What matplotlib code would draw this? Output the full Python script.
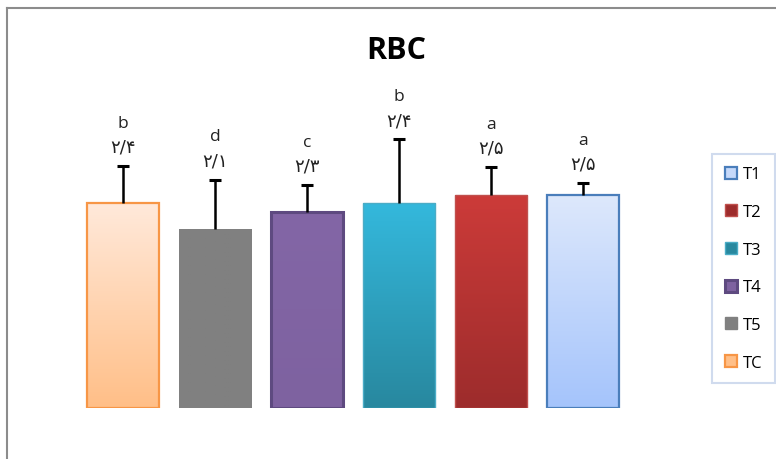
import numpy as np
import matplotlib
matplotlib.use('Agg')
import matplotlib.pyplot as plt
from matplotlib.patches import Patch, Rectangle
from matplotlib.lines import Line2D
from matplotlib.colors import LinearSegmentedColormap

# data (bars drawn left to right)
groups = ['TC', 'T5', 'T4', 'T3', 'T2', 'T1']
values = [2.4, 2.1, 2.3, 2.4, 2.5, 2.5]
errors = [0.44, 0.58, 0.32, 0.75, 0.33, 0.14]
value_labels = ['۲/۴', '۲/۱', '۲/۳', '۲/۴', '۲/۵', '۲/۵']
letters = ['b', 'd', 'c', 'b', 'a', 'a']

# gradient top colour, bottom colour, edge colour, edge width
styles = {
    'TC': ('#FFE9DA', '#FFBF88', '#F79646', 1.6),
    'T5': ('#808080', '#808080', '#808080', 0.0),
    'T4': ('#8366A6', '#7E62A0', '#5E4A80', 2.2),
    'T3': ('#34B8DC', '#28889F', '#4BACC6', 1.0),
    'T2': ('#CC3B39', '#9D2C2C', '#C0504D', 1.0),
    'T1': ('#DDE8FC', '#A5C4FB', '#4A7EBB', 1.6),
}

fig = plt.figure(figsize=(7.76, 4.6), dpi=100)
ax = fig.add_axes([68 / 776, 51 / 460, 570 / 776, 341 / 460])

x = np.arange(len(groups))
w = 0.79
for i, g in enumerate(groups):
    top_c, bot_c, edge_c, lw = styles[g]
    cmap = LinearSegmentedColormap.from_list(g, [bot_c, top_c])
    grad = np.linspace(1, 0, 100).reshape(-1, 1)
    rect = Rectangle((x[i] - w / 2, 0), w, values[i], facecolor='none',
                     edgecolor=edge_c if lw > 0 else 'none', linewidth=lw, zorder=3)
    ax.add_patch(rect)
    im = ax.imshow(grad, cmap=cmap, extent=[x[i] - w / 2, x[i] + w / 2, 0, values[i]],
                   aspect='auto', zorder=2, vmin=0, vmax=1)
    im.set_clip_path(rect)

tops = np.array(values) + np.array(errors)
ax.vlines(x, values, tops, color='black', linewidth=1.8, zorder=4)
ax.plot(x, tops, ls='none', marker='_', markersize=9, mew=2.2, color='black', zorder=4)

for i in range(len(groups)):
    ax.annotate(value_labels[i], (x[i], tops[i]), xytext=(0, 14), textcoords='offset points',
                ha='center', va='center', fontsize=13, family=['DejaVu Sans'], color='#222222')
    ax.annotate(letters[i], (x[i], tops[i]), xytext=(0, 31), textcoords='offset points',
                ha='center', va='center', fontsize=12.5, family=['Open Sans'], color='#222222')

ax.set_xlim(-0.6, 5.6)
ax.set_ylim(0, 4)
ax.axis('off')

fig.text(0.51, 0.89, 'RBC', ha='center', va='center', fontsize=22,
         fontweight='bold', family=['Open Sans'])

# legend, top entry is T1
order = ['T1', 'T2', 'T3', 'T4', 'T5', 'TC']
handles = [Patch(facecolor=styles[g][1] if g != 'T1' else '#C6D9FA',
                 edgecolor=styles[g][2], linewidth=max(styles[g][3], 1.0)) for g in order]
leg = fig.legend(handles, order, loc='upper left', bbox_to_anchor=(712 / 776, 1 - 155 / 460),
                 frameon=True, fancybox=False, handlelength=0.75, handleheight=0.75,
                 handletextpad=0.35, labelspacing=1.3, borderpad=0.75, borderaxespad=0,
                 prop={'family': 'Open Sans', 'size': 12})
leg.get_frame().set_edgecolor('#C5D3EA')
leg.get_frame().set_linewidth(1.5)

# outer chart frame
fig.add_artist(Line2D([7 / 776, 7 / 776], [0, 1 - 9 / 460], color='#8C8C8C', lw=1.5))
fig.add_artist(Line2D([7 / 776, 1.0], [1 - 9 / 460, 1 - 9 / 460], color='#8C8C8C', lw=1.5))

fig.savefig('out.png', dpi=100)
